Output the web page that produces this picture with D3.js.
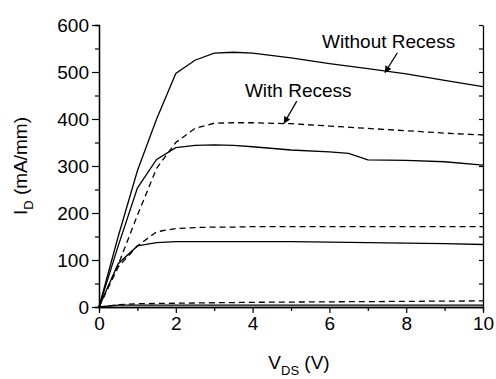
<!DOCTYPE html>
<html>
<head>
<meta charset="utf-8">
<script src="https://cdn.jsdelivr.net/npm/d3@7"></script>
<style>
body { margin: 0; background: #fff; }
svg text { font-family: "Liberation Sans", Arial, sans-serif; fill: #000; }
</style>
</head>
<body>
<div id="chart"></div>
<script>
// drain voltage (V) and drain current (mA/mm)
var vds = [0, 0.5, 1, 1.5, 2, 2.5, 3, 3.5, 4, 5, 6, 7, 8, 9, 10];
var noRecess1 = [0, 150, 290, 400, 497, 525, 540, 542, 540, 530, 518, 507, 496, 482, 469];
var vds2 = [0, 0.5, 1, 1.5, 2, 2.5, 3, 3.5, 4, 5, 6, 6.5, 7, 8, 9, 10];
var noRecess2 = [0, 130, 253, 314, 339, 344, 345, 344, 341, 334, 330, 327, 313, 312, 309, 302];
var noRecess3 = [0, 92, 130, 137, 139, 139, 139, 139, 139, 139, 138, 137, 136, 135, 133];
var noRecess4 = [0, 4, 4, 4, 4, 4, 4, 4, 4, 4, 4, 4, 4, 4, 4];
var recess1 = [0, 90, 195, 295, 350, 380, 391, 392, 392, 390, 385, 380, 375, 370, 366];
var recess2 = [0, 85, 130, 160, 167, 169, 170, 170, 171, 171, 171, 171, 171, 171, 171];
var recess3 = [0, 5, 7, 7.5, 8, 8.5, 9, 9.5, 10, 10.5, 11, 11.5, 12, 12.5, 13];

var xTicks = [0, 2, 4, 6, 8, 10];
var yTicks = [0, 100, 200, 300, 400, 500, 600];

var width = 496, height = 379;
var margin = {top: 25, right: 13, bottom: 72, left: 99};

var svg = d3.select("#chart").append("svg")
  .attr("width", width)
  .attr("height", height);

var x = d3.scaleLinear().domain([0, 10]).range([margin.left, width - margin.right]);
var y = d3.scaleLinear().domain([0, 600]).range([height - margin.bottom, margin.top]);

// arrowhead
svg.append("defs").append("marker")
  .attr("id", "arr")
  .attr("viewBox", "0 0 10 10")
  .attr("refX", 9).attr("refY", 5)
  .attr("markerWidth", 11).attr("markerHeight", 7)
  .attr("markerUnits", "userSpaceOnUse")
  .attr("orient", "auto")
  .append("path")
  .attr("d", "M0,0L10,5L0,10z")
  .attr("fill", "#000");

// curves
var line = d3.line()
  .x(function(d) { return x(d[0]); })
  .y(function(d) { return y(d[1]); });

var curves = [
  {v: vds, i: noRecess1, dash: null},
  {v: vds2, i: noRecess2, dash: null},
  {v: vds, i: noRecess3, dash: null},
  {v: vds, i: noRecess4, dash: null},
  {v: vds, i: recess1, dash: "6,4"},
  {v: vds, i: recess2, dash: "6,4"},
  {v: vds, i: recess3, dash: "6,4"}
];

svg.selectAll("path.curve")
  .data(curves)
  .enter()
  .append("path")
  .attr("class", "curve")
  .attr("d", function(c) { return line(c.v.map(function(v, k) { return [v, c.i[k]]; })); })
  .attr("fill", "none")
  .attr("stroke", "#000")
  .attr("stroke-width", 1.3)
  .attr("stroke-dasharray", function(c) { return c.dash; });

// axes
var fontSize = "19px";

var gLeft = svg.append("g").attr("transform", "translate(" + x(0) + ",0)");
gLeft.call(d3.axisLeft(y).tickValues(yTicks).tickSize(7).tickSizeOuter(0).tickPadding(3));
gLeft.append("g").call(d3.axisLeft(y).tickValues(d3.range(50, 600, 100)).tickSize(4).tickFormat(""));

var gBottom = svg.append("g").attr("transform", "translate(0," + y(0) + ")");
gBottom.call(d3.axisBottom(x).tickValues(xTicks).tickSize(6).tickSizeOuter(0).tickPadding(4));
gBottom.append("g").call(d3.axisBottom(x).tickValues([1, 3, 5, 7, 9]).tickSize(4).tickFormat(""));

var gRight = svg.append("g").attr("transform", "translate(" + x(10) + ",0)");
gRight.call(d3.axisLeft(y).tickValues(d3.range(0, 601, 50)).tickSize(4).tickSizeOuter(0).tickFormat(""));

svg.selectAll(".domain").attr("stroke", "#000").attr("stroke-width", 1.3);
svg.selectAll(".tick line").attr("stroke", "#000").attr("stroke-width", 1.2);
svg.selectAll(".tick text").style("font-size", fontSize).attr("fill", "#000");

// axis titles
var xt = svg.append("text")
  .attr("x", x(5) + 8)
  .attr("y", 369)
  .attr("text-anchor", "middle")
  .style("font-size", fontSize);
xt.append("tspan").text("V");
xt.append("tspan").attr("dy", 6).style("font-size", "13px").text("DS");
xt.append("tspan").attr("dy", -6).text(" (V)");

var yt = svg.append("text")
  .attr("transform", "translate(27," + y(300) + ") rotate(-90)")
  .attr("text-anchor", "middle")
  .style("font-size", fontSize);
yt.append("tspan").text("I");
yt.append("tspan").attr("dy", 6).style("font-size", "13px").text("D");
yt.append("tspan").attr("dy", -6).text(" (mA/mm)");

// annotations
var labels = [
  {text: "Without Recess", lx: 5.81, ly: 551, from: [7.77, 541], to: [7.45, 499]},
  {text: "With Recess", lx: 3.80, ly: 447, from: [5.15, 438], to: [4.82, 391]}
];

svg.selectAll("text.lab")
  .data(labels)
  .enter()
  .append("text")
  .attr("class", "lab")
  .attr("x", function(d) { return x(d.lx); })
  .attr("y", function(d) { return y(d.ly); })
  .style("font-size", fontSize)
  .text(function(d) { return d.text; });

svg.selectAll("line.arrow")
  .data(labels)
  .enter()
  .append("line")
  .attr("class", "arrow")
  .attr("x1", function(d) { return x(d.from[0]); })
  .attr("y1", function(d) { return y(d.from[1]); })
  .attr("x2", function(d) { return x(d.to[0]); })
  .attr("y2", function(d) { return y(d.to[1]); })
  .attr("stroke", "#000")
  .attr("stroke-width", 1.3)
  .attr("marker-end", "url(#arr)");
</script>
</body>
</html>
